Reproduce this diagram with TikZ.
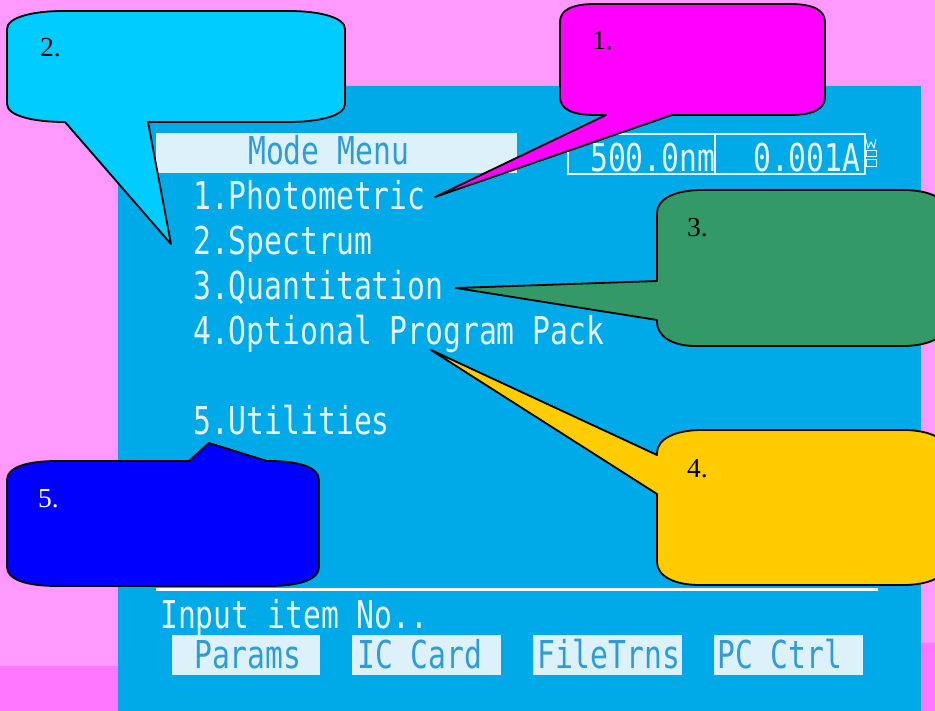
\documentclass[tikz,border=0pt]{standalone}
\usepackage{fontspec}
\usepackage{graphicx}
\setmainfont{Liberation Serif}
\newfontfamily\scrfont{DejaVu Sans Mono}
\definecolor{pinkbg}{HTML}{FF99FF}
\definecolor{pinkdark}{HTML}{FF77FF}
\definecolor{screen}{HTML}{00AAE8}
\definecolor{scrtext}{HTML}{E6F5FD}
\definecolor{hdrbar}{HTML}{DDF1FB}
\definecolor{hdrtext}{HTML}{2F9CD6}
\definecolor{cA}{HTML}{FF00FF}
\definecolor{cB}{HTML}{00CCFF}
\definecolor{cC}{HTML}{339966}
\definecolor{cD}{HTML}{FFCC00}
\definecolor{cE}{HTML}{0000FF}
\newcommand{\scrtxt}[1]{\scalebox{0.773}[1]{#1}}
\tikzset{
  scr/.style={font=\scrfont\fontsize{38.4}{40}\selectfont, text=scrtext, inner sep=0pt},
  hdr/.style={font=\scrfont\fontsize{38.4}{40}\selectfont, text=hdrtext, inner sep=0pt},
  calloutshape/.style={draw=black, line width=1.8pt, line join=round},
  calltext/.style={font=\fontsize{27.5}{30}\selectfont, inner sep=0pt, anchor=base west},
  lightbox/.style={fill=hdrbar, draw=none}
}
\begin{document}
\begin{tikzpicture}[x=1pt,y=-1pt]
\useasboundingbox (0,0) rectangle (935,711);
\clip (0,0) rectangle (935,711);
% background
\fill[pinkbg] (0,0) rectangle (935,711);
\fill[pinkdark] (0,666) rectangle (118,711);
\fill[pinkdark] (921,643) rectangle (935,711);
% screen
\fill[screen] (118,86) rectangle (921,711);
% header bar
\fill[lightbox] (156,133) rectangle (517,173);
\node[hdr, anchor=base west] (hdr) at (248,165) {\scrtxt{Mode Menu}};
% value box
\draw[scrtext, line width=1.5pt] (568,134) rectangle (865,174);
\draw[scrtext, line width=1.5pt] (715,134) -- (715,174);
\node[scr, anchor=base west] (wl) at (590,172) {\scrtxt{500.0nm}};
\node[scr, anchor=base west] (abs) at (753,172) {\scrtxt{0.001A}};
\draw[scrtext, line width=1pt] (866,139) -- (868,148) -- (871,142) -- (874,148) -- (876,139);
\draw[scrtext, line width=1pt] (866,151) rectangle (876,157);
\draw[scrtext, line width=1pt] (866,160) rectangle (876,167);
% menu items
\node[scr, anchor=base west] (m1) at (193,210) {\scrtxt{1.Photometric}};
\node[scr, anchor=base west] (m2) at (193,255) {\scrtxt{2.Spectrum}};
\node[scr, anchor=base west] (m3) at (193,300) {\scrtxt{3.Quantitation}};
\node[scr, anchor=base west] (m4) at (193,345) {\scrtxt{4.Optional Program Pack}};
\node[scr, anchor=base west] (m5) at (193,435) {\scrtxt{5.Utilities}};
% bottom
\draw[white, line width=3pt] (156,589) -- (878,589);
\node[scr, anchor=base west] (inp) at (160,628) {\scrtxt{Input item No..}};
\fill[lightbox] (172,635) rectangle (320,675);
\fill[lightbox] (352,635) rectangle (501,675);
\fill[lightbox] (533,635) rectangle (682,675);
\fill[lightbox] (714,635) rectangle (863,675);
\node[hdr, anchor=base west] (b1) at (194,668) {\scrtxt{Params}};
\node[hdr, anchor=base west] (b2) at (357,668) {\scrtxt{IC Card}};
\node[hdr, anchor=base west] (b3) at (537,668) {\scrtxt{FileTrns}};
\node[hdr, anchor=base west] (b4) at (717,668) {\scrtxt{PC Ctrl}};
% callout 2 (cyan)
\coordinate (t2) at (171,244);
\filldraw[calloutshape, fill=cB]
  (63,11) -- (289,11) .. controls (318,11) and (345,17) .. (345,29)
  -- (345,104) .. controls (345,116) and (318,122) .. (289,122)
  -- (148,122) -- (t2) -- (65,122)
  .. controls (34,122) and (7,116) .. (7,104)
  -- (7,29) .. controls (7,17) and (34,11) .. cycle;
\node[calltext] (l2) at (40,57) {2.};
% callout 1 (magenta)
\coordinate (t1) at (435,197);
\filldraw[calloutshape, fill=cA]
  (595,4) -- (790,4) .. controls (813,4) and (825,10) .. (825,22)
  -- (825,97) .. controls (825,109) and (813,115) .. (790,115)
  -- (672,115) -- (t1) -- (606,115) -- (595,115)
  .. controls (572,115) and (560,109) .. (560,97)
  -- (560,22) .. controls (560,10) and (572,4) .. cycle;
\node[calltext] (l1) at (592,50) {1.};
% callout 3 (green)
\coordinate (t3) at (456,288);
\filldraw[calloutshape, fill=cC]
  (702,190) -- (903,190) .. controls (930,190) and (948,199) .. (948,213)
  -- (948,322) .. controls (948,336) and (930,346) .. (903,346)
  -- (695,346) .. controls (672,346) and (657,336) .. (657,322)
  -- (657,320) -- (t3) -- (657,281)
  -- (657,213) .. controls (657,199) and (675,190) .. cycle;
\node[calltext] (l3) at (687,237) {3.};
% callout 4 (yellow)
\coordinate (t4) at (431,350);
\filldraw[calloutshape, fill=cD]
  (702,430) -- (903,430) .. controls (930,430) and (948,439) .. (948,453)
  -- (948,562) .. controls (948,576) and (930,585) .. (903,585)
  -- (700,585) .. controls (674,585) and (657,576) .. (657,562)
  -- (657,494) -- (t4) -- (657,455)
  -- (657,453) .. controls (657,439) and (675,430) .. cycle;
\node[calltext] (l4) at (687,477) {4.};
% callout 5 (blue)
\coordinate (t5) at (209,443);
\filldraw[calloutshape, fill=cE]
  (57,461) -- (189,461) -- (t5) -- (267,461) -- (269,461)
  .. controls (301,461) and (319,468) .. (319,480)
  -- (319,567) .. controls (319,579) and (301,586) .. (269,586)
  -- (57,586) .. controls (25,586) and (7,579) .. (7,567)
  -- (7,480) .. controls (7,468) and (25,461) .. cycle;
\node[calltext, text=white] (l5) at (38,507) {5.};
\end{tikzpicture}
\end{document}
